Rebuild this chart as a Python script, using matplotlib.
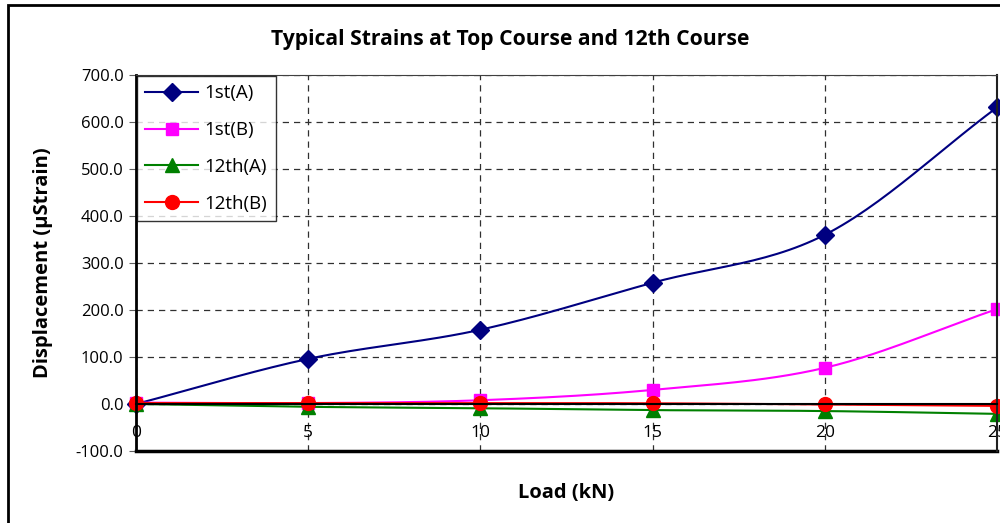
import numpy as np
import matplotlib
matplotlib.use("Agg")
import matplotlib.pyplot as plt
from matplotlib.patches import Rectangle

plt.rcParams['font.family'] = ['Open Sans', 'DejaVu Sans']

# Data
load = [0, 5, 10, 15, 20, 25]
top_a = [0, 96, 158, 258, 360, 631]
top_b = [3, 2, 8, 30, 77, 202]
c12_a = [0, -6, -9, -13, -15, -21]
c12_b = [2, 2, 2, 1.5, -1, -4]

series = [
    ("1st(A)", top_a, '#000080', 'D', 9),
    ("1st(B)", top_b, '#FF00FF', 's', 9),
    ("12th(A)", c12_a, '#008000', '^', 10),
    ("12th(B)", c12_b, '#FF0000', 'o', 10),
]


# Catmull-Rom smoothing, similar to Excel's "smoothed line"
def smooth(x, y, n=30):
    x = np.asarray(x, float)
    y = np.asarray(y, float)
    px = np.concatenate([[2 * x[0] - x[1]], x, [2 * x[-1] - x[-2]]])
    py = np.concatenate([[2 * y[0] - y[1]], y, [2 * y[-1] - y[-2]]])
    t = np.linspace(0, 1, n)
    xs, ys = [], []
    for i in range(1, len(px) - 2):
        for p, out in ((px, xs), (py, ys)):
            p0, p1, p2, p3 = p[i - 1], p[i], p[i + 1], p[i + 2]
            out.extend(0.5 * (2 * p1 + (-p0 + p2) * t
                              + (2 * p0 - 5 * p1 + 4 * p2 - p3) * t ** 2
                              + (-p0 + 3 * p1 - 3 * p2 + p3) * t ** 3))
    return np.array(xs), np.array(ys)


fig = plt.figure(figsize=(10, 5.23), dpi=100)
ax = fig.add_axes([0.136, 1 - 451 / 523, 0.861, 376 / 523])

# outer chart frame (cropped at right and bottom)
fig.patches.append(Rectangle((0.008, -0.1), 1.2, 1.1 - 5 / 523, transform=fig.transFigure,
                             fill=False, edgecolor='black', linewidth=2))

for label, vals, col, mk, ms in series:
    sx, sy = smooth(load, vals)
    ax.plot(sx, sy, color=col, linewidth=1.5, clip_on=False)
    ax.plot(load, vals, linestyle='none', marker=mk, markersize=ms, color=col, clip_on=False)
    ax.plot([], [], color=col, linewidth=1.5, marker=mk, markersize=ms, label=label)

# x-axis crosses at zero like in Excel (set before tick labels, it resets ticks)
ax.spines['bottom'].set_position(('data', 0))
ax.spines['bottom'].set_linewidth(1.5)
ax.axhline(-100, color='black', linewidth=2.5, clip_on=False)
ax.spines['left'].set_linewidth(2)
ax.spines['top'].set_color('#404040')
ax.spines['right'].set_color('#202020')
ax.spines['right'].set_linewidth(1.5)

ax.set_xlim(0, 25)
ax.set_ylim(-100, 700)
ax.set_yticks(np.arange(-100, 701, 100))
ax.set_yticklabels([f"{v:.1f}" for v in np.arange(-100, 701, 100)])
ax.set_xticks(load)
ax.set_xticklabels([str(v) for v in load])
ax.tick_params(axis='x', length=0, pad=15, labelsize=12.5)
ax.tick_params(axis='y', length=5, color='#606060', pad=4, labelsize=12)

ax.grid(True, color='#303030', linestyle=(0, (5, 4)), linewidth=0.9)

fig.text(0.51, 1 - 40 / 523, "Typical Strains at Top Course and 12th Course", fontsize=15.2,
         fontweight='bold', ha='center', va='center')
ax.set_ylabel("Displacement (µStrain)", fontsize=14.5, fontweight='bold', labelpad=16)
ax.set_xlabel("Load (kN)", fontsize=14.5, fontweight='bold')
ax.xaxis.set_label_coords(0.5, -0.085)

leg = ax.legend(loc='upper left', fontsize=13.5, frameon=True, fancybox=False,
                edgecolor='black', handlelength=2.8, handletextpad=0.35,
                borderaxespad=0.05, labelspacing=1.0, borderpad=0.45)
leg.get_frame().set_linewidth(1.0)

fig.savefig("out.png", dpi=100)
